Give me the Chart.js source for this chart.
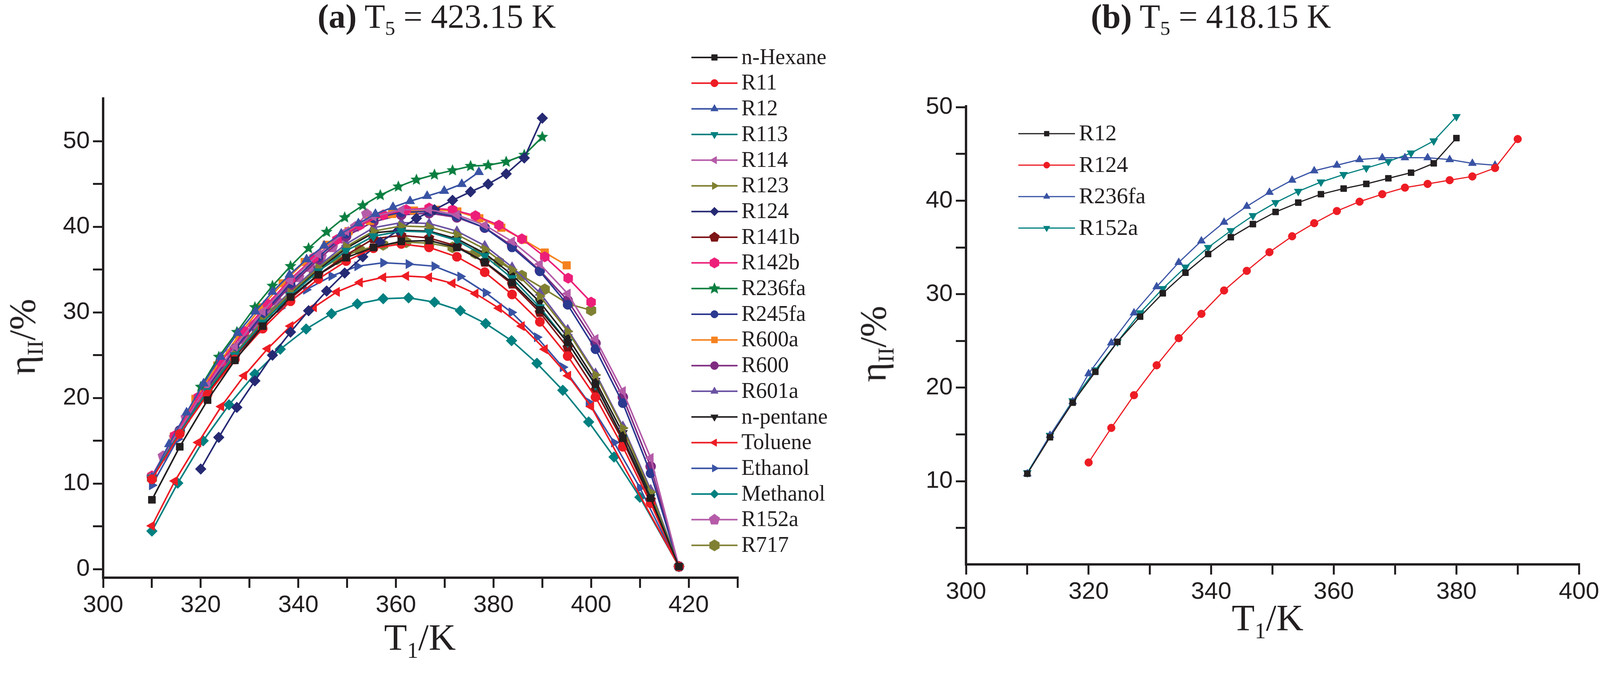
<!DOCTYPE html>
<html lang="en">
<head>
<meta charset="UTF-8">
<title>Second law efficiency vs T1</title>
<script src="https://cdn.jsdelivr.net/npm/chart.js"></script>
<style>
  body { margin: 0; width: 4102px; height: 1727px; background: #fff; position: relative; overflow: hidden; }
  canvas { position: absolute; top: 0; }
  .txt { position: absolute; font-family: "Liberation Serif", "Times New Roman", serif; color: #231f20; white-space: nowrap; }
  .title { font-size: 86px; transform: translateX(-50%); }
  .xt { font-size: 96px; transform: translateX(-50%); }
  .yt { font-size: 96px; transform: translate(-50%, -50%) rotate(-90deg); }
  sub { font-size: 60%; }
</style>
</head>
<body>
<canvas id="chartA" width="2200" height="1727" style="left:0;width:2200px;height:1727px"></canvas>
<canvas id="chartB" width="1902" height="1727" style="left:2200px;width:1902px;height:1727px"></canvas>

<div class="txt title" style="left:1118px;top:-8px"><b>(a)</b> T<sub>5</sub> = 423.15 K</div>
<div class="txt title" style="left:3100px;top:-8px"><b>(b)</b> T<sub>5</sub> = 418.15 K</div>
<div class="txt xt" style="left:1075px;top:1575px">T<sub>1</sub>/K</div>
<div class="txt xt" style="left:3245px;top:1525px">T<sub>1</sub>/K</div>
<div class="txt yt" style="left:62px;top:862px">&eta;<sub>II</sub>/%</div>
<div class="txt yt" style="left:2240px;top:880px">&eta;<sub>II</sub>/%</div>

<script>
// ---- panel (a) temperatures (K) ----
const tMain = [310,315.7,321.4,327.0,332.7,338.4,344.1,349.8,355.4,361.1,366.8,372.5,378.2,383.8,389.5,395.2,400.9,406.5,412.2,418];
const tAlcohol = [310,315.3,320.5,325.8,331.1,336.3,341.6,346.8,352.1,357.4,362.6,367.9,373.2,378.4,383.7,388.9,394.2,399.5,404.7,410,418];
const t400 = [310,314.7,319.5,324.2,328.9,333.7,338.4,343.2,347.9,352.6,357.4,362.1,366.8,371.6,376.3,381.1,385.8,390.5,395.3,400];
const tToluene = [310,314.7,319.5,324.2,328.9,333.7,338.4,343.2,347.9,352.6,357.4,362.1,366.8,371.6,376.3,381.1,385.8,390.5,395.3,400,418];
const t390 = [320,323.7,327.4,331.1,334.7,338.4,342.1,345.8,349.5,353.2,356.8,360.5,364.2,367.9,371.6,375.3,378.9,382.6,386.3,390];
const tR12a = [310,313.5,317.1,320.6,324.1,327.6,331.2,334.7,338.2,341.7,345.3,348.8,352.3,355.8,359.4,362.9,366.4,369.9,373.5,377];
const tR600a = [310,314.5,318.9,323.4,327.9,332.4,336.8,341.3,345.8,350.3,354.7,359.2,363.7,368.2,372.6,377.1,381.6,386.1,390.5,395];
const tR152a = [310,312.3,314.6,317,319.3,321.6,323.9,326.2,328.5,330.8,333.2,335.5,337.8,340.1,342.4,344.7,347,349.4,351.7,354];

// ---- panel (a) efficiencies (%) ----
const nHexane  = [8.1,14.3,19.75,24.4,28.4,31.8,34.4,36.4,37.6,38.3,38.4,37.6,35.9,33.5,30.3,26.5,21.6,15.3,8.3,0.3];
const r11      = [10.5,15.8,20.4,24.5,28.1,31.3,33.9,36.0,37.5,38.0,37.6,36.5,34.7,32.1,28.9,24.9,20.1,14.3,7.7,0.3];
const r12a     = [10.7,14.6,18.3,21.7,24.8,27.6,30.1,32.4,34.4,36.2,37.8,39.2,40.4,41.5,42.3,43.0,43.6,44.2,45.0,46.4];
const r113     = [10.7,16.0,20.8,25.0,28.8,32.0,34.8,37.2,38.9,39.5,39.4,38.4,36.6,34.0,30.6,26.5,21.5,15.3,8.4,0.3];
const r114     = [10.9,16.3,21.5,26.0,30.1,33.7,36.8,39.5,41.2,42.0,42.0,41.4,40.2,38.3,35.65,32.2,26.9,20.8,13.0,0.3];
const r123     = [10.7,16.0,20.9,25.1,29.0,32.3,35.2,37.7,39.5,40.1,40.0,39.1,37.4,35.0,31.9,27.8,22.7,16.5,9.0,0.3];
const r124a    = [11.7,15.4,18.9,22.0,25.0,27.7,30.2,32.5,34.6,36.5,38.2,39.6,41.0,42.0,43.1,44.1,45.0,46.2,48.05,52.7];
const r141b    = [10.6,15.9,20.6,24.8,28.5,31.6,34.4,36.7,38.6,39.0,38.7,37.75,35.85,33.3,30.0,25.9,20.9,15.0,8.1,0.3];
const r142b    = [10.9,15.6,20.1,24.2,27.8,31.0,33.9,36.4,38.5,40.2,41.4,42.0,42.2,42.0,41.3,40.2,38.6,36.5,34.0,31.2];
const r236faA  = [21.3,24.8,27.7,30.6,33.1,35.4,37.5,39.4,41.1,42.5,43.7,44.7,45.5,46.1,46.6,47.1,47.2,47.6,48.4,50.5];
const r245fa   = [10.8,16.2,21.3,25.8,29.8,33.4,36.5,39.2,41.0,41.7,41.8,41.2,39.9,37.6,34.8,30.9,25.7,19.4,11.2,0.3];
const r600a    = [10.7,15.5,19.9,23.8,27.4,30.6,33.4,35.9,37.9,39.5,40.7,41.5,41.9,42.0,41.8,41.0,39.9,38.5,37.0,35.5];
const r600     = [10.8,16.2,21.2,25.6,29.6,33.1,36.2,38.9,40.6,41.4,41.6,41.1,39.9,37.8,34.9,31.4,26.4,20.1,12.0,0.3];
const r601a    = [10.8,16.1,21.0,25.2,29.1,32.5,35.4,38.0,39.9,40.5,40.4,39.5,37.8,35.3,32.3,28.0,22.9,16.7,9.3,0.3];
const nPentane = [10.7,16.0,20.8,25.0,28.8,32.1,35.0,37.5,39.3,39.6,39.5,38.6,36.9,34.4,31.2,27.1,22.0,15.9,8.7,0.3];
const toluene  = [5.06,10.3,14.8,19.0,22.6,25.75,28.4,30.6,32.4,33.5,34.1,34.25,34.1,33.4,32.2,30.5,28.4,25.7,22.6,19.0,0.3];
const ethanol  = [9.8,15.2,20.0,24.1,27.6,30.5,32.65,34.25,35.4,35.8,35.65,35.4,34.2,32.3,30.0,27.1,23.6,19.5,14.8,9.5,0.3];
const methanol = [4.45,10.05,15.0,19.2,22.8,25.7,28.06,29.85,31.0,31.6,31.7,31.2,30.2,28.7,26.7,24.05,20.9,17.2,13.1,8.4,0.3];
const r152aA   = [10.8,13.2,15.4,17.7,19.8,21.7,23.5,25.3,26.9,28.5,30.0,31.4,32.8,34.1,35.3,36.5,37.6,38.6,40.0,41.5];
const r717     = [10.6,15.5,19.9,23.8,27.1,30.0,32.4,34.6,36.2,37.3,37.9,38.2,38.1,37.6,36.9,35.9,34.3,32.7,31.0,30.25];

// ---- panel (b) ----
const tB380 = [310,313.7,317.4,321.1,324.7,328.4,332.1,335.8,339.5,343.2,346.8,350.5,354.2,357.9,361.6,365.3,368.9,372.6,376.3,380];
const tB390 = [320,323.7,327.4,331.1,334.7,338.4,342.1,345.8,349.5,353.2,356.8,360.5,364.2,367.9,371.6,375.3,378.9,382.6,386.3,390];
const tBR236fa = [310,313.7,317.4,320,323.7,327.4,331.1,334.7,338.4,342.1,345.8,349.5,353.2,356.8,360.5,364.2,367.9,371.6,375.3,378.9,382.6,386.3];
const r12b    = [10.8,14.7,18.4,21.7,24.9,27.6,30.1,32.3,34.3,36.1,37.5,38.8,39.8,40.7,41.3,41.8,42.4,43.0,44.0,46.7];
const r124b   = [12.0,15.7,19.2,22.4,25.3,27.9,30.4,32.5,34.5,36.2,37.6,38.9,39.9,40.7,41.4,41.8,42.2,42.6,43.5,46.6];
const r236faB = [10.8,14.9,18.5,21.5,24.8,28.0,30.8,33.4,35.7,37.7,39.4,40.9,42.2,43.2,43.8,44.4,44.6,44.6,44.6,44.4,44.0,43.8];
const r152aB  = [10.9,14.9,18.6,21.9,24.9,28.0,30.6,32.9,35.0,36.8,38.4,39.8,41.0,42.0,42.8,43.5,44.2,45.1,46.4,49.0];

const ink = '#231f20';
const FONT_TICK = { family: 'Liberation Sans, Arial, sans-serif', size: 62 };

// custom marker shapes (pentagon, hexagon, star)
function shape(kind, r, color) {
  const c = document.createElement('canvas');
  c.width = c.height = Math.ceil(2 * r + 4);
  const g = c.getContext('2d');
  const cx = c.width / 2, cy = c.height / 2;
  g.fillStyle = color;
  g.beginPath();
  if (kind === 'star') {
    for (let i = 0; i < 10; i++) {
      const rr = i % 2 ? r * 0.45 : r;
      const a = -Math.PI / 2 + i * Math.PI / 5;
      g.lineTo(cx + rr * Math.cos(a), cy + rr * Math.sin(a));
    }
  } else {
    const n = kind === 'pentagon' ? 5 : 6;
    for (let i = 0; i < n; i++) {
      const a = -Math.PI / 2 + i * 2 * Math.PI / n;
      g.lineTo(cx + r * Math.cos(a), cy + r * Math.sin(a));
    }
  }
  g.closePath();
  g.fill();
  return c;
}

function ds(label, xs, ys, color, style, opts) {
  const o = Object.assign({ radius: 14, rot: 0, width: 4 }, opts || {});
  return {
    label: label,
    data: xs.map((x, i) => ({ x: x, y: ys[i] })),
    borderColor: color,
    backgroundColor: color,
    borderWidth: o.width,
    pointStyle: style,
    pointRotation: o.rot,
    pointRadius: o.radius,
    pointBorderWidth: 1,
    tension: 0,
    fill: false
  };
}

const seriesA = [
  ds('n-Hexane', tMain, nHexane, ink, 'rect', { radius: 13 }),
  ds('R11', tMain, r11, '#ed1c24', 'circle', { radius: 12 }),
  ds('R12', tR12a, r12a, '#3953a4', 'triangle'),
  ds('R113', tMain, r113, '#008080', 'triangle', { rot: 180 }),
  ds('R114', tMain, r114, '#b55ba8', 'triangle', { rot: -90 }),
  ds('R123', tMain, r123, '#7f7f30', 'triangle', { rot: 90 }),
  ds('R124', t390, r124a, '#262a73', 'rectRot'),
  ds('R141b', tMain, r141b, '#7d1416', shape('pentagon', 14, '#7d1416')),
  ds('R142b', t400, r142b, '#ec1e79', shape('hexagon', 14, '#ec1e79')),
  ds('R236fa', t390, r236faA, '#0a7f40', shape('star', 16, '#0a7f40')),
  ds('R245fa', tMain, r245fa, '#2b3990', 'circle', { radius: 12 }),
  ds('R600a', tR600a, r600a, '#f58220', 'rect', { radius: 14 }),
  ds('R600', tMain, r600, '#7f2b82', 'circle', { radius: 13 }),
  ds('R601a', tMain, r601a, '#6a52a2', 'triangle'),
  ds('n-pentane', tMain, nPentane, ink, 'triangle', { rot: 180 }),
  ds('Toluene', tToluene, toluene, '#ed1c24', 'triangle', { rot: -90 }),
  ds('Ethanol', tAlcohol, ethanol, '#3953a4', 'triangle', { rot: 90 }),
  ds('Methanol', tAlcohol, methanol, '#008080', 'rectRot'),
  ds('R152a', tR152a, r152aA, '#b55ba8', shape('pentagon', 15, '#b55ba8')),
  ds('R717', t400, r717, '#808033', shape('hexagon', 15, '#808033'))
];

const seriesB = [
  ds('R12', tB380, r12b, ink, 'rect', { radius: 11, width: 3 }),
  ds('R124', tB390, r124b, '#ed1c24', 'circle', { radius: 10, width: 3 }),
  ds('R236fa', tBR236fa, r236faB, '#3953a4', 'triangle', { radius: 12, width: 3 }),
  ds('R152a', tB380, r152aB, '#008080', 'triangle', { radius: 12, rot: 180, width: 3 })
];

// legend drawn as line + marker + label
function legendPlugin(cfg) {
  return {
    id: 'customLegend',
    afterDraw(chart) {
      const ctx = chart.ctx;
      ctx.save();
      ctx.font = cfg.size + 'px "Liberation Serif", "Times New Roman", serif';
      ctx.textBaseline = 'middle';
      chart.data.datasets.forEach((d, i) => {
        const y = cfg.y0 + i * cfg.dy;
        ctx.strokeStyle = d.borderColor;
        ctx.lineWidth = d.borderWidth;
        ctx.beginPath();
        ctx.moveTo(cfg.x0, y);
        ctx.lineTo(cfg.x1, y);
        ctx.stroke();
        ctx.fillStyle = d.backgroundColor;
        ctx.lineWidth = 1;
        Chart.helpers.drawPoint(ctx, { pointStyle: d.pointStyle, rotation: d.pointRotation, radius: d.pointRadius * 0.8, borderWidth: 1 }, (cfg.x0 + cfg.x1) / 2, y);
        ctx.fillStyle = ink;
        ctx.fillText(d.label, cfg.x1 + 10, y + 2);
      });
      ctx.restore();
    }
  };
}

function axes(xmin, xmax, xTicks, ymin, ymax, yTicks, yAxisW, xAxisH) {
  const tickOpts = { color: ink, font: FONT_TICK, padding: 8, maxRotation: 0, autoSkip: false };
  return {
    x: {
      type: 'linear', min: xmin, max: xmax,
      afterBuildTicks: s => { s.ticks = xTicks.map(v => ({ value: v })); },
      afterFit: s => { s.height = xAxisH; },
      ticks: Object.assign({}, tickOpts, { callback: v => (v % 20 === 0 ? v : '') }),
      grid: { drawOnChartArea: false, color: ink, lineWidth: 5, tickLength: 26 },
      border: { color: ink, width: 6 }
    },
    y: {
      type: 'linear', min: ymin, max: ymax,
      afterBuildTicks: s => { s.ticks = yTicks.map(v => ({ value: v })); },
      afterFit: s => { s.width = yAxisW; },
      ticks: Object.assign({}, tickOpts, { callback: v => (v % 10 === 0 ? v : '') }),
      grid: { drawOnChartArea: false, color: ink, lineWidth: 5, tickLength: 26 },
      border: { color: ink, width: 6 }
    }
  };
}

const xTicksA = [300,310,320,330,340,350,360,370,380,390,400,410,420,430];
const yTicksA = [0,5,10,15,20,25,30,35,40,45,50];
const xTicksB = [300,310,320,330,340,350,360,370,380,390,400];
const yTicksB = [5,10,15,20,25,30,35,40,45,50];

new Chart(document.getElementById('chartA'), {
  type: 'line',
  data: { datasets: seriesA },
  options: {
    responsive: false, animation: false,
    layout: { padding: { top: 252, right: 312, left: 0, bottom: 0 } },
    plugins: { legend: { display: false }, tooltip: { enabled: false } },
    scales: axes(300, 430, xTicksA, -1, 55, yTicksA, 264, 249)
  },
  plugins: [legendPlugin({ x0: 1770, x1: 1888, y0: 147, dy: 65.7, size: 56 })]
});

new Chart(document.getElementById('chartB'), {
  type: 'line',
  data: { datasets: seriesB },
  options: {
    responsive: false, animation: false,
    layout: { padding: { top: 272, right: 58, left: 0, bottom: 0 } },
    plugins: { legend: { display: false }, tooltip: { enabled: false } },
    scales: axes(300, 400, xTicksB, 1.1, 50.1, yTicksB, 273, 283)
  },
  plugins: [legendPlugin({ x0: 407, x1: 552, y0: 342, dy: 80.5, size: 58 })]
});
</script>
</body>
</html>
